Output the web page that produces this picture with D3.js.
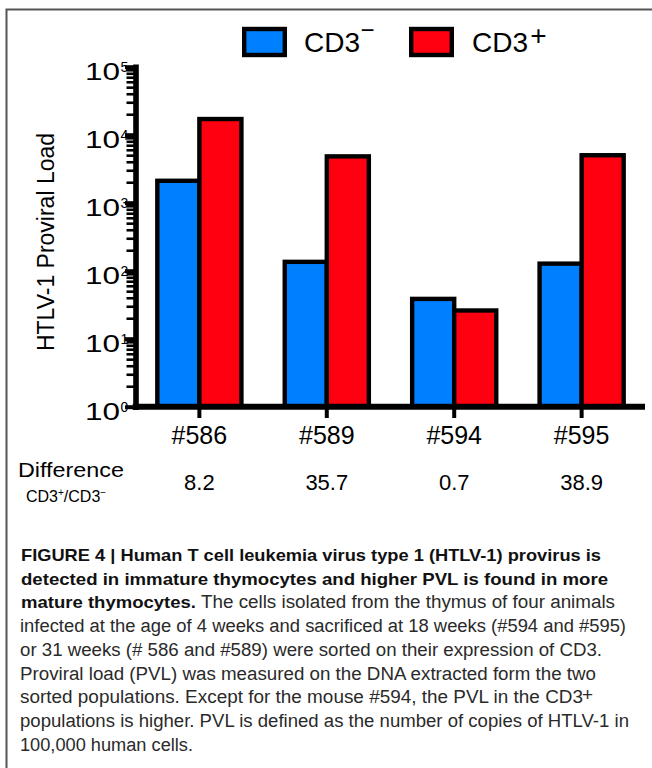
<!DOCTYPE html>
<html>
<head>
<meta charset="utf-8">
<script src="https://cdn.jsdelivr.net/npm/d3@7"></script>
<style>
  html, body { margin: 0; padding: 0; background: #fff; }
  svg { display: block; font-family: "Liberation Sans", Arial, Helvetica, sans-serif; }
</style>
</head>
<body>
<script>
// ---- data ----
const animals = ["#586", "#589", "#594", "#595"];
const seriesKeys = ["neg", "pos"];
const seriesLabels = ["CD3", "CD3"];
const seriesMarks = ["\u2212", "+"];
const cd3Neg = [2100, 135, 38.5, 127];
const cd3Pos = [17000, 4800, 26, 4990];
const differenceValues = ["8.2", "35.7", "0.7", "38.9"];
const yTickExponents = [0, 1, 2, 3, 4, 5];
const seriesColors = ["#0080ff", "#ff0010"];

const captionBold = [
  "FIGURE 4 | Human T cell leukemia virus type 1 (HTLV-1) provirus is",
  "detected in immature thymocytes and higher PVL is found in more",
  "mature thymocytes."
];
const captionRegular = [
  "The cells isolated from the thymus of four animals",
  "infected at the age of 4 weeks and sacrificed at 18 weeks (#594 and #595)",
  "or 31 weeks (# 586 and #589) were sorted on their expression of CD3.",
  "Proviral load (PVL) was measured on the DNA extracted form the two",
  "sorted populations. Except for the mouse #594, the PVL in the CD3",
  "populations is higher. PVL is defined as the number of copies of HTLV-1 in",
  "100,000 human cells."
];

// ---- layout ----
const W = 652, H = 768;
const yAxisX = 135.5;
const xAxisRight = 645;

const svg = d3.select("body").append("svg")
  .attr("width", W).attr("height", H);

// frame (top + left)
svg.append("path")
  .attr("d", `M6.5,${H} V9.5 H${W}`)
  .attr("fill", "none").attr("stroke", "#555").attr("stroke-width", 2);

const y = d3.scaleLog().domain([1, 1e5]).range([406.7, 66.7]);
const x = d3.scaleBand().domain(animals).range([114, 667]).paddingInner(0.34).paddingOuter(0.34);
const xs = d3.scaleBand().domain(seriesKeys).range([0, x.bandwidth()]).padding(0);
const color = d3.scaleOrdinal().domain(seriesKeys).range(seriesColors);

const rows = animals.map((a, i) => ({ animal: a, neg: cd3Neg[i], pos: cd3Pos[i] }));

// bars
const groups = svg.append("g").selectAll("g").data(rows).join("g")
  .attr("transform", d => `translate(${x(d.animal)},0)`);
groups.selectAll("rect")
  .data(d => seriesKeys.map(k => ({ key: k, value: d[k] })))
  .join("rect")
  .attr("x", d => xs(d.key))
  .attr("width", xs.bandwidth())
  .attr("y", d => y(d.value))
  .attr("height", d => y(1) - y(d.value))
  .attr("fill", d => color(d.key))
  .attr("stroke", "#000")
  .attr("stroke-width", 4.4);

// y axis minor ticks
const minorTicks = y.ticks().filter(d => Math.abs(Math.log10(d) - Math.round(Math.log10(d))) > 1e-6);
const gyMinor = svg.append("g").attr("transform", `translate(${yAxisX},0)`)
  .call(d3.axisLeft(y).tickValues(minorTicks).tickSize(9).tickSizeOuter(0).tickFormat(""));
gyMinor.selectAll(".tick line").attr("stroke", "#000").attr("stroke-width", 2.6);
gyMinor.select(".domain").attr("stroke", "#000").attr("stroke-width", 5.6).attr("stroke-linecap", "square");

// y axis major ticks + labels
const gyMajor = svg.append("g").attr("transform", `translate(${yAxisX},0)`)
  .call(d3.axisLeft(y).tickValues(yTickExponents.map(e => Math.pow(10, e))).tickSize(10.5).tickSizeOuter(0).tickFormat(""));
gyMajor.select(".domain").remove();
gyMajor.selectAll(".tick line").attr("stroke", "#000").attr("stroke-width", 4);
gyMajor.selectAll(".tick text").remove();
gyMajor.selectAll(".tick").each(function (d) {
  const g = d3.select(this);
  const e = Math.round(Math.log10(d));
  g.append("text")
    .attr("x", -15.5).attr("y", 12.8)
    .attr("text-anchor", "end")
    .attr("font-size", 23)
    .attr("textLength", 35).attr("lengthAdjust", "spacingAndGlyphs")
    .attr("fill", "#000")
    .text("10");
  g.append("text")
    .attr("x", -15).attr("y", 4.5)
    .attr("text-anchor", "start")
    .attr("font-size", 14)
    .attr("fill", "#000")
    .text(String(e));
});

// x axis
const gx = svg.append("g").attr("transform", `translate(0,${y(1)})`)
  .call(d3.axisBottom(x).tickSize(11.3).tickSizeOuter(0));
gx.select(".domain").remove();
gx.append("line")
  .attr("x1", yAxisX - 2.8).attr("x2", xAxisRight)
  .attr("y1", 0).attr("y2", 0)
  .attr("stroke", "#000").attr("stroke-width", 6);
gx.selectAll(".tick line").attr("stroke", "#000").attr("stroke-width", 4);
gx.selectAll(".tick text")
  .attr("y", 37.3).attr("dy", 0)
  .attr("font-size", 25)
  .attr("font-family", "Liberation Sans, Arial, sans-serif")
  .attr("fill", "#000");

// y title
svg.append("text")
  .attr("transform", "translate(54,242) rotate(-90)")
  .attr("text-anchor", "middle")
  .attr("font-size", 23)
  .attr("fill", "#000")
  .text("HTLV-1 Proviral Load");

// legend
const legendPos = [{ box: 244.2, text: 304, mark: 360.5, markY: 38, markSize: 24 },
                   { box: 411.2, text: 472, mark: 530.3, markY: 45, markSize: 28 }];
seriesKeys.forEach((k, i) => {
  const p = legendPos[i];
  svg.append("rect")
    .attr("x", p.box).attr("y", 29).attr("width", 40.6).attr("height", 26)
    .attr("fill", color(k)).attr("stroke", "#000").attr("stroke-width", 4.4);
  svg.append("text")
    .attr("x", p.text).attr("y", 51.7)
    .attr("font-size", 28).attr("fill", "#000")
    .text(seriesLabels[i]);
  svg.append("text")
    .attr("x", p.mark).attr("y", p.markY)
    .attr("font-size", p.markSize).attr("fill", "#000")
    .text(seriesMarks[i]);
});

// difference row
svg.append("text")
  .attr("x", 18).attr("y", 477.3)
  .attr("font-size", 20).attr("fill", "#000")
  .attr("textLength", 106).attr("lengthAdjust", "spacingAndGlyphs")
  .text("Difference");
const ratioLabel = svg.append("text")
  .attr("x", 26).attr("y", 501.7)
  .attr("font-size", 16).attr("fill", "#000");
ratioLabel.append("tspan").text("CD3");
ratioLabel.append("tspan").attr("font-size", 10).attr("dy", -6).text("+");
ratioLabel.append("tspan").attr("dy", 6).text("/CD3");
ratioLabel.append("tspan").attr("font-size", 10).attr("dy", -6).text("\u2212");

svg.append("g").selectAll("text").data(animals).join("text")
  .attr("x", d => x(d) + x.bandwidth() / 2)
  .attr("y", 490)
  .attr("text-anchor", "middle")
  .attr("font-size", 22)
  .attr("fill", "#000")
  .text((d, i) => differenceValues[i]);

// caption
const lineY = i => 561 + 23.7 * i;
const boldWidths = [580, 587, 175];
captionBold.forEach((t, i) => {
  svg.append("text")
    .attr("x", 21).attr("y", lineY(i))
    .attr("font-size", 17).attr("font-weight", "bold").attr("fill", "#111")
    .attr("textLength", boldWidths[i]).attr("lengthAdjust", "spacingAndGlyphs")
    .text(t);
});
const regX = [201, 20, 20, 20, 20, 20, 20];
const regWidths = [414, 606, 582, 576, 563, 609, 173];
captionRegular.forEach((t, i) => {
  svg.append("text")
    .attr("x", regX[i]).attr("y", lineY(i + 2))
    .attr("font-size", 18).attr("fill", "#2a2a2a")
    .attr("textLength", regWidths[i]).attr("lengthAdjust", "spacingAndGlyphs")
    .text(t);
});
svg.append("text")
  .attr("x", 582).attr("y", lineY(6) - 2)
  .attr("font-size", 19).attr("fill", "#2a2a2a")
  .text("+");
</script>
</body>
</html>
